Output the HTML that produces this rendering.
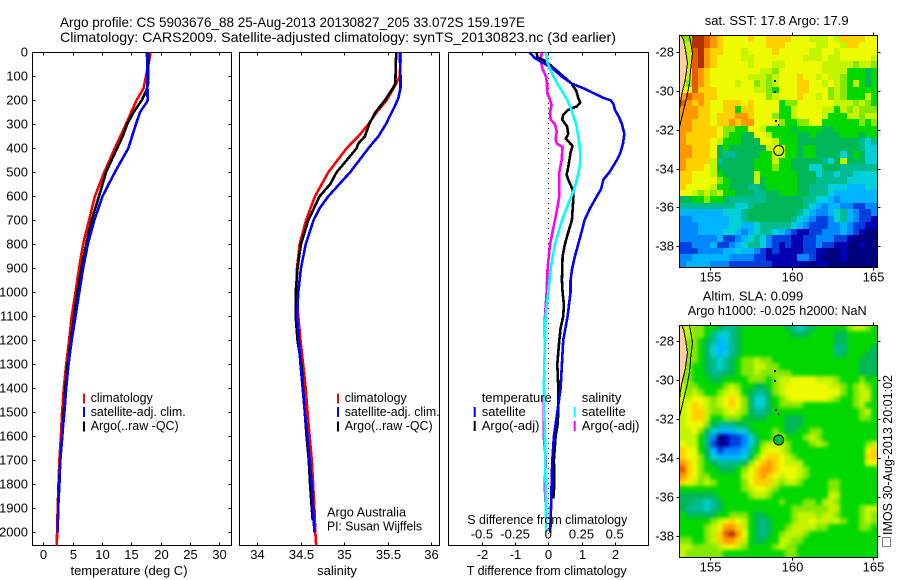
<!DOCTYPE html>
<html>
<head>
<meta charset="utf-8">
<style>
html,body{margin:0;padding:0;background:#fff;}
svg{display:block;}
text{font-family:"Liberation Sans",sans-serif;font-size:13px;fill:#000;}
.title{font-size:14px;}
</style>
</head>
<body>
<svg id="fig" xmlns="http://www.w3.org/2000/svg" width="900" height="580" viewBox="0 0 900 580">
<defs>
<filter id="slaSmooth" filterUnits="userSpaceOnUse" x="660" y="300" width="240" height="280" color-interpolation-filters="sRGB"><feGaussianBlur stdDeviation="1.8"/></filter>
<clipPath id="sstClip"><rect x="679.5" y="35" width="198" height="232"/></clipPath>
<clipPath id="slaClip"><rect x="679.5" y="325" width="198" height="232"/></clipPath>
</defs>
<rect x="0" y="0" width="900" height="580" fill="#fff"/>
<text class="title" x="60" y="27" textLength="465" lengthAdjust="spacingAndGlyphs">Argo profile: CS 5903676_88 25-Aug-2013 20130827_205 33.072S 159.197E</text>
<text class="title" x="60" y="42" textLength="556" lengthAdjust="spacingAndGlyphs">Climatology: CARS2009. Satellite-adjusted climatology: synTS_20130823.nc (3d earlier)</text>

<g id="panelT"></g>
<g id="panelS"></g>
<g id="panelD"></g>
<g id="mapSST"></g>
<g id="mapSLA"></g>

<g>
<rect x="83" y="393.5" width="2" height="10" fill="#f00"/>
<text x="90.7" y="402" textLength="62" lengthAdjust="spacingAndGlyphs">climatology</text>
<rect x="83" y="407" width="2" height="10" fill="#00f"/>
<text x="90.7" y="416" textLength="95" lengthAdjust="spacingAndGlyphs">satellite-adj. clim.</text>
<rect x="83" y="421.5" width="2" height="10" fill="#000"/>
<text x="90.7" y="430" textLength="88" lengthAdjust="spacingAndGlyphs">Argo(..raw -QC)</text>
</g>
<g>
<rect x="337" y="393.5" width="2" height="10" fill="#f00"/>
<text x="344.7" y="402" textLength="62" lengthAdjust="spacingAndGlyphs">climatology</text>
<rect x="337" y="407" width="2" height="10" fill="#00f"/>
<text x="344.7" y="416" textLength="95" lengthAdjust="spacingAndGlyphs">satellite-adj. clim.</text>
<rect x="337" y="421.5" width="2" height="10" fill="#000"/>
<text x="344.7" y="430" textLength="88" lengthAdjust="spacingAndGlyphs">Argo(..raw -QC)</text>
<text x="327" y="516.7" textLength="79" lengthAdjust="spacingAndGlyphs">Argo Australia</text>
<text x="327" y="530.7" textLength="95" lengthAdjust="spacingAndGlyphs">PI: Susan Wijffels</text>
</g>
<g id="diffLegend"></g>

<text x="129" y="575" text-anchor="middle">temperature (deg C)</text>
<text x="337" y="575" text-anchor="middle">salinity</text>
<text x="466.7" y="575" textLength="160" lengthAdjust="spacingAndGlyphs">T difference from climatology</text>
<text x="467.3" y="524" textLength="160" lengthAdjust="spacingAndGlyphs">S difference from climatology</text>

<text x="776.7" y="25" text-anchor="middle">sat. SST: 17.8 Argo: 17.9</text>
<text x="753" y="300.7" text-anchor="middle">Altim. SLA: 0.099</text>
<text x="687.7" y="315" textLength="179" lengthAdjust="spacingAndGlyphs">Argo h1000: -0.025 h2000: NaN</text>
<g>
<rect x="882.5" y="537.5" width="8" height="9" fill="none" stroke="#000" stroke-width="1" stroke-dasharray="1 1" shape-rendering="crispEdges"/>
<text transform="translate(892,535) rotate(-90)" textLength="160" lengthAdjust="spacingAndGlyphs">IMOS 30-Aug-2013 20:01:02</text>
</g>
</svg>

<script>
// ---------- profile data ----------
const depthTicks = [0,100,200,300,400,500,600,700,800,900,1000,1100,1200,1300,1400,1500,1600,1700,1800,1900,2000];
const tempTicks = [0,5,10,15,20,25,30];
const salTicks = [34,34.5,35,35.5,36];
const salTickLabels = ['34','34.5','35','35.5','36'];
const tDiffTicks = [-2,-1,0,1,2];
const sDiffTicks = [-0.5,-0.25,0,0.25,0.5];
const sDiffTickLabels = ['-0.5','-0.25','0','0.25','0.5'];

const tempClimDepth = [0,30,100,150,200,250,300,400,500,600,700,800,900,1000,1100,1200,1300,1400,1500,1600,1700,1800,1900,2000,2056];
const tempClimValue = [18.3,18.1,17.5,17.1,15.9,15,14.1,12.2,10.4,8.8,7.8,6.8,6.1,5.5,4.85,4.4,3.9,3.5,3.2,3,2.75,2.6,2.45,2.35,2.3];
const tempSatDepth = [0,200,210,250,300,400,500,600,700,800,900,1000,1100,1200,1300,1400,1500,1600,1700,1800,1900,2000];
const tempSatValue = [17.7,17.8,17.6,16.5,15.8,14.5,12.2,10.1,8.7,7.6,6.8,6.15,5.5,4.85,4.3,3.9,3.6,3.2,2.9,2.75,2.55,2.45];
const tempArgoDepth = [0,130,160,200,250,300,350,400,500,600,700,800,900,1000,1100,1200,1300,1400,1500,1600,1700,1800,1900,1950];
const tempArgoValue = [17.9,17.9,17.6,16.8,15.4,14.3,13.55,12.6,10.7,9.5,8.25,7.3,6.5,5.8,5.25,4.7,4.15,3.75,3.5,3.25,2.9,2.7,2.55,2.5];

const salClimDepth = [0,100,130,200,250,300,350,400,500,600,700,800,900,1000,1100,1200,1300,1400,1500,1600,1700,1800,1900,2000,2056];
const salClimValue = [35.655,35.64,35.6,35.49,35.375,35.28,35.165,35.03,34.82,34.667,34.563,34.49,34.46,34.45,34.475,34.5,34.53,34.56,34.58,34.605,34.63,34.645,34.66,34.67,34.68];
const salSatDepth = [0,100,150,190,220,300,350,400,500,600,650,700,800,900,1000,1100,1200,1300,1400,1500,1600,1700,1800,1900,2000];
const salSatValue = [35.64,35.65,35.65,35.625,35.59,35.48,35.395,35.28,35.07,34.82,34.72,34.65,34.56,34.505,34.475,34.46,34.48,34.5,34.525,34.55,34.58,34.605,34.63,34.645,34.66];
const salArgoDepth = [0,130,150,200,250,300,350,380,400,500,550,600,700,800,900,1000,1100,1200,1300,1400,1500,1600,1700,1800,1900,1950];
const salArgoValue = [35.6,35.59,35.56,35.47,35.36,35.29,35.24,35.165,35.145,34.915,34.84,34.72,34.59,34.505,34.465,34.445,34.445,34.465,34.51,34.53,34.55,34.57,34.595,34.61,34.63,34.64];

const dTempSatDepth = [0,25,40,70,100,130,150,170,190,200,215,240,270,300,340,380,420,450,500,530,570,600,650,700,750,800,850,900,950,1000,1100,1200,1300,1400,1500,1600,1700,1800,1900,2000];
const dTempSatValue = [-0.57,-0.4,-0.2,0.15,0.4,0.7,1.06,1.36,1.66,1.88,1.96,2.01,2.13,2.22,2.29,2.25,2.17,2.06,1.84,1.66,1.59,1.46,1.26,1.09,1,0.9,0.8,0.72,0.67,0.67,0.58,0.45,0.41,0.37,0.27,0.17,0.12,0.1,0.08,0.06];
const dTempArgoDepth = [0,20,40,70,100,130,160,190,210,225,240,260,280,310,340,360,390,420,480,510,530,570,600,700,750,800,850,950,1000,1050,1100,1150,1200,1300,1400,1500,1550,1600,1700,1800,1860];
const dTempArgoValue = [-0.35,-0.33,-0.05,0.2,0.45,0.7,0.84,0.9,0.96,0.86,0.6,0.45,0.42,0.57,0.6,0.53,0.73,0.67,0.6,0.55,0.6,0.73,0.76,0.71,0.6,0.5,0.43,0.41,0.43,0.47,0.45,0.37,0.33,0.27,0.3,0.3,0.28,0.22,0.17,0.18,0.15];
const dSalSatDepth = [0,40,70,100,130,170,200,240,300,360,420,470,520,570,620,700,800,900,1000,1100,1200,1300,1400,1500,1600,1700,1800,1900,2000];
const dSalSatValue = [-0.018,-0.008,0.013,0.038,0.068,0.113,0.144,0.174,0.209,0.229,0.242,0.239,0.219,0.196,0.159,0.103,0.05,0.018,0,-0.02,-0.025,-0.03,-0.033,-0.03,-0.025,-0.023,-0.02,-0.018,-0.015];
const dSalArgoDepth = [0,40,70,100,130,170,190,220,250,280,300,330,360,380,395,450,500,600,650,700,800,900,1000,1100,1200,1300,1400,1500,1600,1700,1800,1900,2000];
const dSalArgoValue = [-0.05,-0.055,-0.043,-0.018,-0.01,-0.008,0.008,0.025,0.013,0.018,0.05,0.063,0.055,0.063,0.108,0.1,0.083,0.083,0.068,0.05,0.013,-0.005,-0.013,-0.025,-0.025,-0.03,-0.033,-0.033,-0.035,-0.018,-0.028,-0.018,-0.015];

// ---------- map data (hex colour-level per grid cell, north to south) ----------
const sstLevels = [
"99ffedcbbbbcbbccccbbbaaabaccccbb",
"aaffedcbbbbbbbcccbbbbbaabbaccbbb",
"aaefdccbbbabbbbcbbbbbaabbabbbbbb",
"aaefdcbbbbaabbbbbbbbaaabaabbbbba",
"aaefdcbbbbbabbbaabbbbbbaaaaa9aa9",
"aaedcbbbbbbbbaa9bbbbbbbaaaa88878",
"aaedcbbbbbbaaa9abbbcbbabaa988878",
"a9edcbbbbabb9a9abbbccbbaba98a878",
"bbecccbbbbbbaa98bbbccbbb9a988888",
"deddccbbbbbbbb9abbbcbbab9a9888a8",
"edcdcbbcccbcbbbb899bbbbbbaaa9a98",
"dddccbbcc8ccbbbb88abbbbaa8a9a999",
"dddccbcccddcbbb988abbbba888aa9aa",
"ddcccbccdcddbbbb98899bb888888989",
"ddccccb9988bba888878888778888888",
"dcccccb98877bba88887787777888788",
"dccccba888777bba8887777777777656",
"ddcccb78777777aba887887777777655",
"ddcccb766777788aa887887777578755",
"dcccca677777888a8877777657a77755",
"dcccba77777788898877755777666666",
"ccbbba877777a8888887775665665555",
"ccbbbb987777a7888887776666655555",
"cbbbba88777667888887766655544455",
"bba9a9a8877766778887766654444444",
"77889887666666777777665543444444",
"66666666655677777777654344332233",
"44444445556777777776543345643223",
"33444444556777777765432235643221",
"33344444554456666654322233432211",
"33344445543456654321122333432100",
"33333342234565322211223332210000",
"22333422345665321211223221100100",
"22233334454432121111221100100000",
"33444444333322111113321000100000",
"34444333222222211111101100000000"
];
const slaLevels = [
"aa99887667888888876567888889aa98",
"aa998655678888888877788887788888",
"a9987645678888888888888887788888",
"a9987544678888888888888886688887",
"a9987545678888888888888886788877",
"a99876567899a9988888888888888777",
"998876567899aa998888888888888777",
"998876677899a9999988888888888777",
"9988877888899989aabbbbaaa9888988",
"a9988889a9887789abbbbbbbaa989a98",
"a9a9889aba876679abbbbbbbbb989aa8",
"aabba9abcb9755789abbbbbba9889aa8",
"abcba9abcb9755789999888888889a88",
"abcca99aba97667888888888888889a8",
"abcca889998777888777888888888998",
"abbb9766677888888777888888888888",
"aab97544455788898778899888888888",
"aaa8630122357889a8889a9888888888",
"baa86201223579aaa98889a98888889a",
"cbb8742333468abba9888888888888bc",
"cbb9754444579bccba988888888888cc",
"dcb987666679bcdcbaaa8888888888bb",
"ecb98877789bcddcbbba988888888888",
"dcb9988888abcdcbabba988888888888",
"cba9a988889bccca9aa9888899888888",
"88888888889abba98888888899888888",
"777777888889aa9888888888aa888888",
"77665678888888889888998aa9888888",
"766656788888888888999999aa8889aa",
"8777778899987788889aaa9aa98889a9",
"888889abcba87678889aabaaaa9889a9",
"88889abddca8767889aaaa9988888998",
"88889acefdb876789aaa988888888888",
"99889acddca87788aa99888888888888",
"aa9999abba988889a998888888888888",
"a9999998888888888998888888888888"
];
const levelColors = ['#00007f','#0000b0','#0040e0','#0088ff','#00b4ff','#00d0d8','#00bc90','#00b858','#00d800','#84e800','#c4f400','#eefa00','#ffd000','#ff9800','#e85a00','#b03000'];
const lonTicks = [155,160,165];
const latTicks = [-28,-30,-32,-34,-36,-38];
const coastLon = [153.2,153.35,153.47,153.59,153.45,153.25,153.14,153.1];
const coastLat = [-27.14,-27.38,-27.9,-28.58,-29.44,-30.13,-30.63,-31];
const isobathLon = [153.7,153.8,153.9,153.8,153.71,153.55,153.35,153.1];
const isobathLat = [-27.14,-27.56,-28.07,-28.76,-29.62,-30.31,-31,-31.86];
const islandLon = [159,159,159.02,159.2];
const islandLat = [-29.5,-30.04,-31.55,-31.75];
const profileLon = 159.197;
const profileLat = -33.072;

// ---------- scales ----------
const NS = 'http://www.w3.org/2000/svg';
const yDepth = d => 52.3 + 0.24 * d;
const xTemp = v => 43.3 + 5.86 * v;
const xSal = v => 257 + 87 * (v - 34);
const xDiffT = v => 548.3 + 33.2 * v;
const xDiffS = v => 548.3 + 132.8 * v;

function mk(parent, tag, attrs, txt) {
  const e = document.createElementNS(NS, tag);
  for (const k in attrs) e.setAttribute(k, attrs[k]);
  if (txt !== undefined) e.textContent = txt;
  parent.appendChild(e);
  return e;
}

function seg(parent, x1, y1, x2, y2, name) {
  const el = mk(parent, 'line', {x1, y1, x2, y2, stroke: '#000', 'stroke-width': 1, 'shape-rendering': 'crispEdges'});
  
  
  return el;
}

function box(parent, l, t, r, b, name) {
  const el = mk(parent, 'rect', {x: l, y: t, width: r - l, height: b - t, fill: 'none', stroke: '#000', 'stroke-width': 1, 'shape-rendering': 'crispEdges'});
  
  
}

function label(parent, x, y, anchor, s, name) {
  const el = mk(parent, 'text', {x, y, 'text-anchor': anchor}, s);
  
  
}

function curve(parent, depths, values, xf, color, name) {
  const pts = depths.map((d, i) => xf(values[i]).toFixed(1) + ',' + yDepth(d).toFixed(1)).join(' ');
  const el = mk(parent, 'polyline', {points: pts, fill: 'none', stroke: color, 'stroke-width': 2.6, 'shape-rendering': 'crispEdges'});
  
  
}

const TOP = 52.5, BOT = 545.5, TL = 3;

// ---------- temperature panel ----------
const gT = document.getElementById('panelT');
box(gT, 32.5, TOP, 231.5, BOT, 'temperature-axes-frame');
curve(gT, tempClimDepth, tempClimValue, xTemp, '#f00', 'temperature-climatology-line');
curve(gT, tempArgoDepth, tempArgoValue, xTemp, '#000', 'temperature-argo-line');
curve(gT, tempSatDepth, tempSatValue, xTemp, '#00f', 'temperature-satellite-line');
depthTicks.forEach(d => {
  const y = Math.round(yDepth(d)) + 0.5;
  seg(gT, 32.5, y, 32.5 + TL, y, 'depth-tick-left');
  seg(gT, 231.5 - TL, y, 231.5, y, 'depth-tick-right');
  label(gT, 28, y + 4, 'end', String(d), 'depth-tick-label');
});
tempTicks.forEach(v => {
  const x = Math.round(xTemp(v)) + 0.5;
  seg(gT, x, TOP, x, TOP + TL, 'temperature-tick-top');
  seg(gT, x, BOT - TL, x, BOT, 'temperature-tick-bottom');
  label(gT, x, 559, 'middle', String(v), 'temperature-tick-label');
});

// ---------- salinity panel ----------
const gS = document.getElementById('panelS');
box(gS, 239.5, TOP, 439.5, BOT, 'salinity-axes-frame');
curve(gS, salClimDepth, salClimValue, xSal, '#f00', 'salinity-climatology-line');
curve(gS, salArgoDepth, salArgoValue, xSal, '#000', 'salinity-argo-line');
curve(gS, salSatDepth, salSatValue, xSal, '#00f', 'salinity-satellite-line');
salTicks.forEach((v, i) => {
  const x = Math.round(xSal(v)) + 0.5;
  seg(gS, x, TOP, x, TOP + TL, 'salinity-tick-top');
  seg(gS, x, BOT - TL, x, BOT, 'salinity-tick-bottom');
  label(gS, x, 559, 'middle', salTickLabels[i], 'salinity-tick-label');
});

// ---------- difference panel ----------
const gD = document.getElementById('panelD');
box(gD, 448.5, TOP, 648.5, BOT, 'difference-axes-frame');
const zero = mk(gD, 'line', {x1: xDiffT(0), y1: 53, x2: xDiffT(0), y2: 545, stroke: '#000', 'stroke-width': 1, 'stroke-dasharray': '1 4', 'shape-rendering': 'crispEdges'});


curve(gD, dSalArgoDepth, dSalArgoValue, xDiffS, '#f0f', 'salinity-argo-difference-line');
curve(gD, dTempArgoDepth, dTempArgoValue, xDiffT, '#000', 'temperature-argo-difference-line');
curve(gD, dTempSatDepth, dTempSatValue, xDiffT, '#00f', 'temperature-satellite-difference-line');
curve(gD, dSalSatDepth, dSalSatValue, xDiffS, '#0ff', 'salinity-satellite-difference-line');
tDiffTicks.forEach(v => {
  const x = Math.round(xDiffT(v)) + 0.5;
  seg(gD, x, TOP, x, TOP + TL, 't-difference-tick-top');
  seg(gD, x, BOT - TL, x, BOT, 't-difference-tick-bottom');
  label(gD, x, 559, 'middle', String(v), 't-difference-tick-label');
});
sDiffTicks.forEach((v, i) => {
  label(gD, xDiffS(v), 538.7, 'middle', sDiffTickLabels[i], 's-difference-tick-label');
});

// difference legend
const gL = document.getElementById('diffLegend');
function legendRow(x, y, color, s, name) {
  if (color) {
    const sw = mk(gL, 'rect', {x: x - 8, y: y - 9, width: 2, height: 10, fill: color});
    
    
  }
  label(gL, x, y, 'start', s, name);
}
legendRow(481.7, 402, null, 'temperature', 'legend-temperature-heading');
legendRow(481.7, 416, '#00f', 'satellite', 'legend-temperature-satellite');
legendRow(481.7, 430, '#000', 'Argo(-adj)', 'legend-temperature-argo');
legendRow(581.7, 402, null, 'salinity', 'legend-salinity-heading');
legendRow(581.7, 416, '#0ff', 'satellite', 'legend-salinity-satellite');
legendRow(581.7, 430, '#f0f', 'Argo(-adj)', 'legend-salinity-argo');

// ---------- maps ----------
const lonMin = 153.1, lonMax = 165.27, latMax = -27.14, latMin = -39.08;
const xLon = v => 679.5 + (v - lonMin) * 16.27;

function drawMap(parent, levels, top, prefix, markerFill, clipId, filterId) {
  const yLat = v => top + (latMax - v) * 19.43;
  const rows = levels.length;
  const cols = levels[0].length;
  const dLon = (lonMax - lonMin) / cols;
  const dLat = (latMax - latMin) / rows;
  const clip = mk(parent, 'g', {'clip-path': 'url(#' + clipId + ')'});
  
  
  const grid = mk(clip, 'g', filterId ? {filter: 'url(#' + filterId + ')'} : {});
  
  
  levels.forEach((row, r) => {
    for (let c = 0; c < cols; c++) {
      const lv = parseInt(row[c] || '8', 16);
      let x0 = Math.round(xLon(lonMin + c * dLon));
      let x1 = Math.round(xLon(lonMin + (c + 1) * dLon));
      let y0 = Math.round(yLat(latMax - r * dLat));
      let y1 = Math.round(yLat(latMax - (r + 1) * dLat));
      if (filterId) {
        if (c === 0) x0 -= 10;
        if (c === cols - 1) x1 += 10;
        if (r === 0) y0 -= 10;
        if (r === rows - 1) y1 += 10;
      }
      const cell = mk(grid, 'rect', {x: x0, y: y0, width: x1 - x0, height: y1 - y0, fill: levelColors[lv], 'shape-rendering': 'crispEdges'});
      
      
    }
  });
  // land
  const landPts = coastLon.map((v, i) => xLon(v).toFixed(1) + ',' + yLat(coastLat[i]).toFixed(1));
  landPts.push(xLon(lonMin).toFixed(1) + ',' + yLat(coastLat[coastLat.length - 1]).toFixed(1));
  landPts.push(xLon(lonMin).toFixed(1) + ',' + yLat(latMax).toFixed(1));
  const land = mk(parent, 'polygon', {points: landPts.join(' '), fill: '#ffcf9f'});
  
  
  const coast = mk(parent, 'polyline', {points: coastLon.map((v, i) => xLon(v).toFixed(1) + ',' + yLat(coastLat[i]).toFixed(1)).join(' '), fill: 'none', stroke: '#000', 'stroke-width': 1, 'shape-rendering': 'crispEdges'});
  
  
  const iso = mk(parent, 'polyline', {points: isobathLon.map((v, i) => xLon(v).toFixed(1) + ',' + yLat(isobathLat[i]).toFixed(1)).join(' '), fill: 'none', stroke: '#000', 'stroke-width': 1, 'shape-rendering': 'crispEdges'});
  
  
  islandLon.forEach((v, i) => {
    const dot = mk(parent, 'rect', {x: Math.round(xLon(v)) - 1, y: Math.round(yLat(islandLat[i])) - 1, width: i === 3 ? 1 : 2, height: 2, fill: '#000', 'shape-rendering': 'crispEdges'});
    
    
  });
  const mark = mk(parent, 'circle', {cx: xLon(profileLon), cy: yLat(profileLat), r: 5, fill: markerFill, stroke: '#000', 'stroke-width': 1});
  
  
  const bottom = Math.round(yLat(latMin)) + 0.5;
  const l = 679.5, r = 877.5, t = Math.round(top) + 0.5;
  box(parent, l, t, r, bottom, prefix + '-frame');
  lonTicks.forEach(v => {
    const x = Math.round(xLon(v)) + 0.5;
    seg(parent, x, t - 3, x, t, prefix + '-lon-tick-top');
    seg(parent, x, bottom, x, bottom + 3, prefix + '-lon-tick-bottom');
    label(parent, x, bottom + 14, 'middle', String(v), prefix + '-lon-tick-label');
  });
  latTicks.forEach(v => {
    const y = Math.round(yLat(v)) + 0.5;
    seg(parent, l - 3, y, l, y, prefix + '-lat-tick-left');
    seg(parent, r, y, r + 3, y, prefix + '-lat-tick-right');
    label(parent, 674, y + 4, 'end', String(v), prefix + '-lat-tick-label');
  });
}
drawMap(document.getElementById('mapSST'), sstLevels, 35.3, 'sst-map', 'none', 'sstClip', null);
drawMap(document.getElementById('mapSLA'), slaLevels, 324.7, 'sla-map', '#00c030', 'slaClip', 'slaSmooth');
</script>
</body>
</html>
